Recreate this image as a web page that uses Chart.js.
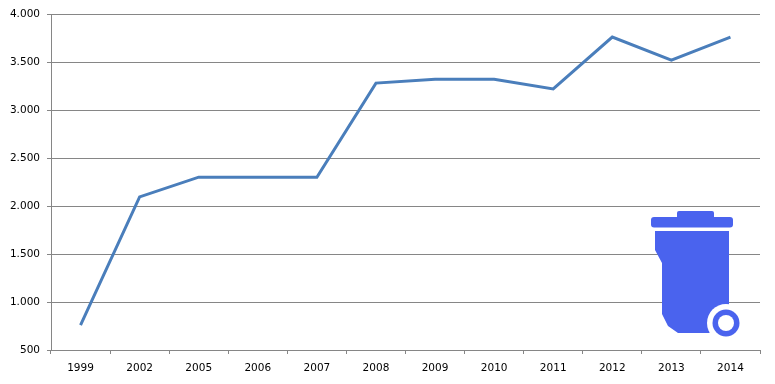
<!DOCTYPE html>
<html>
<head>
<meta charset="utf-8">
<style>
  html, body { margin: 0; padding: 0; background: #fff; }
</style>
<script src="https://cdn.jsdelivr.net/npm/chart.js@4/dist/chart.umd.min.js"></script>
</head>
<body>
<canvas id="chart" width="775" height="384"></canvas>
<script>
const years = ["1999", "2002", "2005", "2006", "2007", "2008", "2009", "2010", "2011", "2012", "2013", "2014"];
const values = [760, 2095, 2300, 2300, 2300, 3280, 3320, 3320, 3220, 3760, 3520, 3760];

const axisColor = "#868686";

// waste bin picture in the lower right corner
const binIcon = {
  id: "binIcon",
  afterDatasetsDraw(chart) {
    const ctx = chart.ctx;
    ctx.save();
    ctx.fillStyle = "#4a63ee";

    ctx.beginPath();
    ctx.roundRect(677, 211, 37, 8, 2);
    ctx.fill();
    ctx.beginPath();
    ctx.roundRect(651, 217, 82, 10.5, 3);
    ctx.fill();

    ctx.beginPath();
    ctx.moveTo(655, 231);
    ctx.lineTo(729, 231);
    ctx.lineTo(729, 320);
    ctx.lineTo(709, 333);
    ctx.lineTo(678, 333);
    ctx.lineTo(668, 326);
    ctx.lineTo(662, 314);
    ctx.lineTo(662, 263);
    ctx.lineTo(655, 250);
    ctx.closePath();
    ctx.fill();

    ctx.fillStyle = "#fff";
    ctx.beginPath();
    ctx.arc(726, 323, 19, 0, Math.PI * 2);
    ctx.fill();

    ctx.fillStyle = "#4a63ee";
    ctx.beginPath();
    ctx.arc(726, 323, 13.5, 0, Math.PI * 2);
    ctx.fill();
    ctx.fillStyle = "#fff";
    ctx.beginPath();
    ctx.arc(726, 323, 8, 0, Math.PI * 2);
    ctx.fill();
    ctx.restore();
  },
};

new Chart(document.getElementById("chart"), {
  type: "line",
  data: {
    labels: years,
    datasets: [
      {
        data: values,
        borderColor: "#4a7ebb",
        borderWidth: 3,
        pointRadius: 0,
        tension: 0,
        fill: false,
      },
    ],
  },
  options: {
    responsive: false,
    animation: false,
    layout: { padding: { top: 14, right: 15, bottom: 0, left: 0 } },
    plugins: { legend: { display: false }, tooltip: { enabled: false } },
    scales: {
      x: {
        offset: true,
        grid: {
          offset: true,
          drawOnChartArea: false,
          color: axisColor,
          tickLength: 4,
        },
        border: { color: axisColor },
        ticks: {
          color: "#000",
          font: { family: "DejaVu Sans", size: 10.5 },
          padding: 8,
          maxRotation: 0,
          autoSkip: false,
        },
        afterFit(scale) {
          scale.height = 34;
        },
      },
      y: {
        min: 500,
        max: 4000,
        grid: { color: axisColor, tickLength: 4 },
        border: { color: axisColor },
        ticks: {
          stepSize: 500,
          color: "#000",
          font: { family: "DejaVu Sans", size: 10.5 },
          padding: 7,
          callback: (value) => value.toLocaleString("de-DE"),
        },
        afterFit(scale) {
          scale.width = 51;
        },
      },
    },
  },
  plugins: [binIcon],
});
</script>
</body>
</html>
